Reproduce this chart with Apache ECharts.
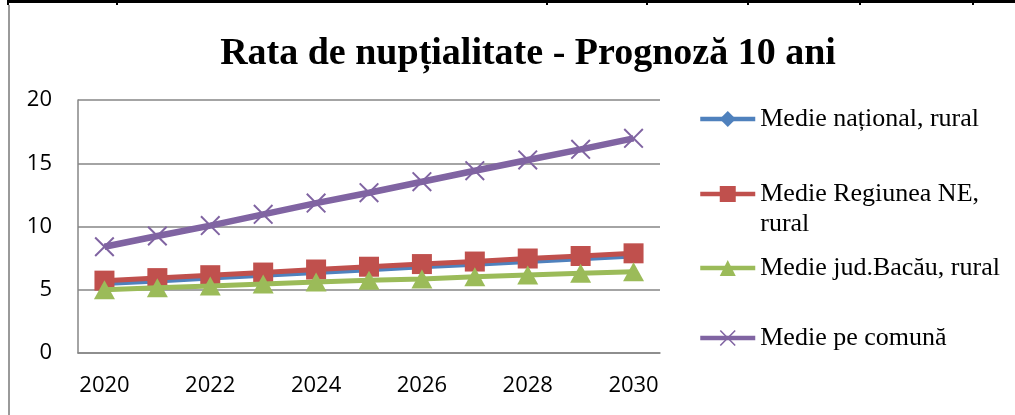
<!DOCTYPE html>
<html>
<head>
<meta charset="utf-8">
<script src="https://cdn.jsdelivr.net/npm/echarts@6/dist/echarts.min.js"></script>
<style>
  html, body { margin: 0; padding: 0; background: #ffffff; }
  #chart { width: 1015px; height: 415px; }
</style>
</head>
<body>
<div id="chart"></div>
<script>
// Years on the horizontal axis
const years = ['2020', '2021', '2022', '2023', '2024', '2025', '2026', '2027', '2028', '2029', '2030'];

// Marriage rate forecast, per 1000 inhabitants
const nationalRural = [5.45, 5.66, 5.88, 6.1, 6.33, 6.55, 6.77, 6.98, 7.2, 7.42, 7.62];
const regionNERural = [5.72, 5.92, 6.15, 6.36, 6.6, 6.82, 7.03, 7.23, 7.47, 7.67, 7.88];
const bacauRural = [5.0, 5.16, 5.3, 5.45, 5.62, 5.76, 5.85, 6.02, 6.16, 6.3, 6.43];
const communeAvg = [8.4, 9.25, 10.07, 10.96, 11.85, 12.67, 13.54, 14.41, 15.26, 16.1, 16.97];

const seriesNames = [
  'Medie național, rural',
  'Medie Regiunea NE, rural',
  'Medie jud.Bacău, rural',
  'Medie pe comună'
];

const COLORS = ['#4F81BD', '#C0504D', '#9BBB59', '#8064A2'];
const CROSS = 'path://M0,0.7L0.7,0L5,4.3L9.3,0L10,0.7L5.7,5L10,9.3L9.3,10L5,5.7L0.7,10L0,9.3L4.3,5Z';

const serif = '"Liberation Serif", "Times New Roman", serif';
const sans = '"Open Sans", "Liberation Sans", sans-serif';

// one legend block per series so each entry sits at its own height
function legendAt(idx, top, extra) {
  return Object.assign({
    data: [seriesNames[idx]],
    orient: 'vertical',
    left: 698,
    top: top,
    padding: 0,
    itemWidth: 55,
    itemHeight: 20,
    lineStyle: { width: 4.5 },
    textStyle: { fontFamily: serif, fontSize: 26, color: '#000', lineHeight: 30 }
  }, extra || {});
}

const chart = echarts.init(document.getElementById('chart'), null, { renderer: 'canvas' });

chart.setOption({
  backgroundColor: '#ffffff',
  animation: false,
  color: COLORS,
  title: {
    text: 'Rata de nupțialitate - Prognoză 10 ani',
    left: 523,
    textAlign: 'center',
    top: 30,
    textStyle: { fontFamily: serif, fontSize: 38, fontWeight: 'bold', color: '#000' }
  },
  legend: [
    legendAt(0, 104),
    // blank first line keeps the icon level with the first text line
    legendAt(1, 149, {
      formatter: function () { return ' \nMedie Regiunea NE,\nrural'; }
    }),
    legendAt(2, 253),
    legendAt(3, 323)
  ],
  grid: { left: 78, right: 355, top: 100, bottom: 62, containLabel: false },
  xAxis: {
    type: 'category',
    data: years,
    boundaryGap: true,
    axisLine: { lineStyle: { color: '#868686', width: 1.5 } },
    axisTick: { show: false },
    axisLabel: { interval: 1, margin: 22, fontFamily: sans, fontSize: 22, color: '#000' }
  },
  yAxis: {
    type: 'value',
    min: 0,
    max: 20,
    interval: 5,
    axisLine: { show: true, lineStyle: { color: '#868686', width: 1.5 } },
    axisTick: { show: false },
    splitLine: { lineStyle: { color: '#868686', width: 1.5 } },
    axisLabel: { margin: 26, fontFamily: sans, fontSize: 22, color: '#000' }
  },
  graphic: [
    // page table border above the chart
    { type: 'rect', shape: { x: 7, y: 0, width: 1008, height: 3 }, style: { fill: '#000' }, silent: true },
    { type: 'rect', shape: { x: 7, y: 0, width: 2, height: 5 }, style: { fill: '#000' }, silent: true },
    { type: 'rect', shape: { x: 116, y: 0, width: 2, height: 5 }, style: { fill: '#000' }, silent: true },
    { type: 'rect', shape: { x: 546, y: 0, width: 2, height: 5 }, style: { fill: '#000' }, silent: true },
    { type: 'rect', shape: { x: 646, y: 0, width: 2, height: 5 }, style: { fill: '#000' }, silent: true },
    { type: 'rect', shape: { x: 747, y: 0, width: 2, height: 5 }, style: { fill: '#000' }, silent: true },
    { type: 'rect', shape: { x: 859, y: 0, width: 2, height: 5 }, style: { fill: '#000' }, silent: true },
    { type: 'rect', shape: { x: 972, y: 0, width: 2, height: 5 }, style: { fill: '#000' }, silent: true },
    // chart frame left edge
    { type: 'rect', shape: { x: 8, y: 5, width: 2, height: 410 }, style: { fill: '#9a9a9a' }, silent: true }
  ],
  series: [
    {
      name: seriesNames[0], type: 'line', data: nationalRural, z: 2,
      symbol: 'diamond', symbolSize: 14,
      lineStyle: { width: 4, color: COLORS[0] },
      itemStyle: { color: COLORS[0] }
    },
    {
      name: seriesNames[1], type: 'line', data: regionNERural, z: 3,
      symbol: 'rect', symbolSize: 20,
      lineStyle: { width: 5, color: COLORS[1] },
      itemStyle: { color: COLORS[1] }
    },
    {
      name: seriesNames[2], type: 'line', data: bacauRural, z: 4,
      symbol: 'triangle', symbolSize: [21, 19],
      lineStyle: { width: 5, color: COLORS[2] },
      itemStyle: { color: COLORS[2] }
    },
    {
      name: seriesNames[3], type: 'line', data: communeAvg, z: 5,
      symbol: CROSS, symbolSize: 20,
      lineStyle: { width: 6.5, color: COLORS[3] },
      itemStyle: { color: COLORS[3] }
    }
  ]
});
</script>
</body>
</html>
